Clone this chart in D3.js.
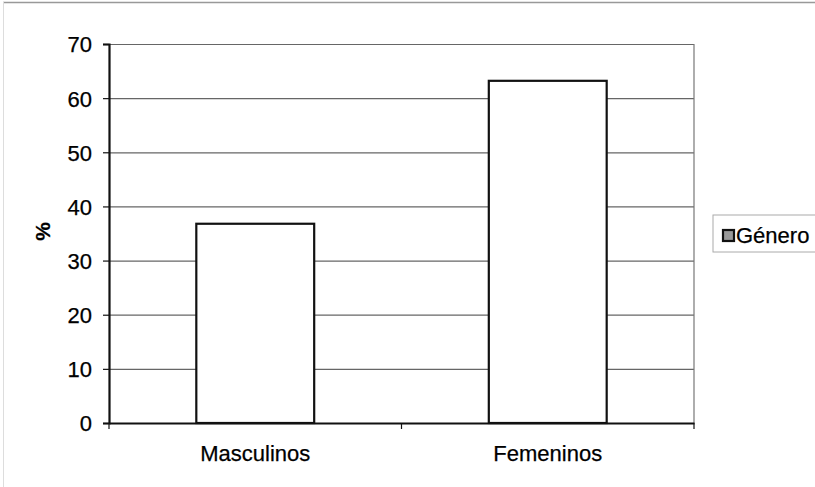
<!DOCTYPE html>
<html>
<head>
<meta charset="utf-8">
<script src="https://cdn.jsdelivr.net/npm/d3@7"></script>
<style>
  body { margin: 0; background: #fff; }
  text { font-family: Arial, "Liberation Sans", sans-serif; fill: #000; stroke: #000; stroke-width: 0.25px; }
  .grid line { stroke: #666; stroke-width: 1.2; }
  .grid .domain { display: none; }
</style>
</head>
<body>
<svg id="chart"></svg>
<script>
"use strict";
const categories = ["Masculinos", "Femeninos"];
const values = [36.8, 63.2];
const yTicks = [0, 10, 20, 30, 40, 50, 60, 70];
const seriesName = "Género";

const W = 815, H = 487;
const margin = {top: 44, right: 121, bottom: 64, left: 109},
    width  = W - margin.left - margin.right,
    height = H - margin.top - margin.bottom;

const svg = d3.select("#chart")
    .attr("width", W)
    .attr("height", H);

// outer frame of the chart area
svg.append("line").attr("x1", 3).attr("x2", W).attr("y1", 2.5).attr("y2", 2.5)
    .attr("stroke", "#999").attr("stroke-width", 1.5);
svg.append("line").attr("x1", 3.5).attr("x2", 3.5).attr("y1", 2).attr("y2", H)
    .attr("stroke", "#ddd").attr("stroke-width", 1);

const g = svg.append("g")
    .attr("transform", "translate(" + margin.left + "," + margin.top + ")");

const yScale = d3.scaleLinear().domain([0, 70]).range([height, 0]);
const xScale = d3.scaleBand().domain(categories).range([0, width])
    .paddingInner(0.597).paddingOuter(0.2985);

// gridlines
g.append("g")
    .attr("class", "grid")
    .call(d3.axisLeft(yScale).tickValues(yTicks).tickSize(-width).tickFormat(""));

// plot area right border
g.append("line").attr("x1", width).attr("x2", width).attr("y1", 0).attr("y2", height)
    .attr("stroke", "#777").attr("stroke-width", 1.2);

// bars
g.selectAll(".bar")
    .data(values)
  .enter().append("rect")
    .attr("class", "bar")
    .attr("x", (d, i) => xScale(categories[i]))
    .attr("y", d => yScale(d))
    .attr("width", xScale.bandwidth())
    .attr("height", d => height - yScale(d))
    .attr("fill", "#fff")
    .attr("stroke", "#111")
    .attr("stroke-width", 2.2);

// y axis
const yAxis = g.append("g")
    .call(d3.axisLeft(yScale).tickValues(yTicks).tickSize(6).tickPadding(11));
yAxis.select(".domain").attr("stroke", "#111").attr("stroke-width", 2.2);
yAxis.selectAll(".tick line").attr("stroke", "#111").attr("stroke-width", 1.2);
yAxis.selectAll(".tick text").style("font-size", "22px").attr("dy", "0.36em");

// x axis
const xAxis = g.append("g")
    .attr("transform", `translate(0, ${height})`)
    .call(d3.axisBottom(xScale).tickSize(0).tickPadding(22).tickSizeOuter(0));
xAxis.select(".domain").attr("stroke", "#111").attr("stroke-width", 2.2);
xAxis.selectAll(".tick text").style("font-size", "22px");
// category boundary ticks
const step = xScale.step();
g.selectAll(".xtick")
    .data(d3.range(categories.length + 1))
  .enter().append("line")
    .attr("x1", i => xScale(categories[0]) - step * xScale.paddingInner() / 2 + i * step)
    .attr("x2", i => xScale(categories[0]) - step * xScale.paddingInner() / 2 + i * step)
    .attr("y1", height).attr("y2", height + 6)
    .attr("stroke", "#111").attr("stroke-width", 1.2);

// y label
g.append("text")
    .attr("transform", `translate(${-66}, ${height / 2 - 2}) rotate(-90)`)
    .attr("text-anchor", "middle")
    .attr("dy", "0.35em")
    .style("font-size", "21px")
    .style("font-weight", "bold")
    .text("%");

// legend
const lg = svg.append("g").attr("transform", "translate(713, 215)");
lg.append("rect").attr("x", 0).attr("y", 0).attr("width", 110).attr("height", 37)
    .attr("fill", "#fff").attr("stroke", "#aaa").attr("stroke-width", 1);
lg.append("rect").attr("x", 10).attr("y", 15).attr("width", 11).attr("height", 11)
    .attr("fill", "#999").attr("stroke", "#111").attr("stroke-width", 2.2);
lg.append("text").attr("x", 23).attr("y", 20).attr("dy", "0.35em")
    .style("font-size", "22px")
    .text(seriesName);
</script>
</body>
</html>
